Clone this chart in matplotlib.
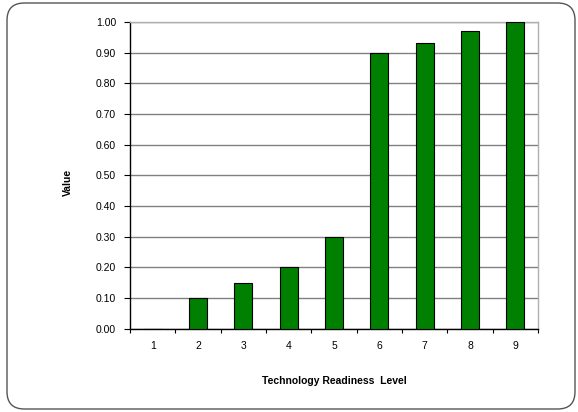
import matplotlib
matplotlib.use("Agg")
import matplotlib.pyplot as plt
from matplotlib.patches import FancyBboxPatch
import numpy as np

plt.rcParams['font.family'] = ['Liberation Sans', 'DejaVu Sans']

categories = ["1", "2", "3", "4", "5", "6", "7", "8", "9"]
values = [0.0, 0.10, 0.15, 0.20, 0.30, 0.90, 0.93, 0.97, 1.00]
yticks = [0.0, 0.1, 0.2, 0.3, 0.4, 0.5, 0.6, 0.7, 0.8, 0.9, 1.0]

W, H = 578, 412
fig = plt.figure(figsize=(W/100, H/100), dpi=100)

# rounded outer border
border = FancyBboxPatch((7/W, 3/H), (568/W), (406/H),
                        boxstyle="round,pad=0,rounding_size=0.03",
                        transform=fig.transFigure, facecolor="none",
                        edgecolor="#555555", linewidth=1.0, mutation_aspect=W/H,
                        zorder=-1)
fig.patches.append(border)

ax = fig.add_axes([130/W, 1-328.7/H, (538-130)/W, (328.7-22)/H])
ax.set_facecolor("none")
x = np.arange(len(categories))
ax.bar(x, values, width=0.4, color="#008000", edgecolor="black", linewidth=0.8, zorder=3)

ax.set_xlim(-0.5, len(categories)-0.5)
ax.set_ylim(0, 1.0)
ax.set_yticks(yticks)
ax.set_yticklabels([f"{v:.2f}" for v in yticks], fontsize=7.5)
ax.yaxis.grid(True, color="#808080", linewidth=1.0, zorder=0)
ax.set_axisbelow(True)

ax.set_xticks(x)
ax.set_xticklabels(categories, fontsize=7.5)
ax.tick_params(axis='x', length=0, pad=9)
ax.set_xticks(np.arange(-0.5, len(categories)), minor=True)
ax.tick_params(axis='x', which='minor', length=3, width=0.8, direction='out')
ax.tick_params(axis='y', length=4, width=0.8, direction='out', pad=6)

for s in ['left', 'bottom']:
    ax.spines[s].set_color('black')
    ax.spines[s].set_linewidth(1.0)
for s in ['top', 'right']:
    ax.spines[s].set_color('#b0b0b0')
    ax.spines[s].set_linewidth(1.0)

ax.set_xlabel("Technology Readiness  Level", fontsize=7.5, fontweight='bold', labelpad=18)
ax.set_ylabel("Value", fontsize=7.5, fontweight='bold')
ax.yaxis.set_label_coords(-0.140, 0.478)

fig.savefig("out.png", dpi=100)
